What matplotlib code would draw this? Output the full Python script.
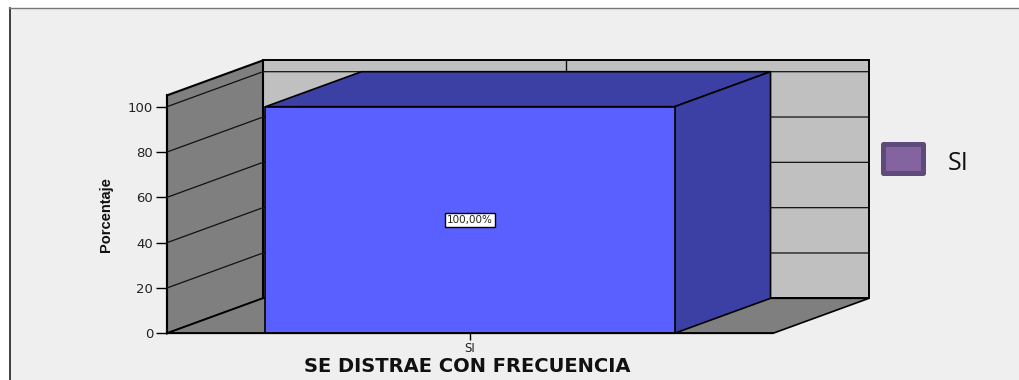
import matplotlib
matplotlib.use('Agg')
import matplotlib.pyplot as plt
from matplotlib.patches import Polygon, Rectangle

# datos
categorias = ['SI']
porcentajes = [100.0]
etiquetas = ['100,00%']
ticks_y = [0, 20, 40, 60, 80, 100]
titulo_x = 'SE DISTRAE CON FRECUENCIA'
titulo_y = 'Porcentaje'

W, H = 1019, 380
Y_MAX = 105
DX, DY = 96 / 606, 35 / 2.266   # profundidad 3D en unidades de datos
ANCHO = 0.675

fig = plt.figure(figsize=(W / 100, H / 100), dpi=100, facecolor='white')
fig.patches.append(Rectangle((9 / W, 0), 1 - 9 / W, 1 - 8 / H, transform=fig.transFigure,
                             facecolor='#efefef', edgecolor='none', zorder=-5))
fig.add_artist(plt.Line2D([9.5 / W, 9.5 / W], [0, 1 - 8 / H], color='#222222', lw=1.2))
fig.add_artist(plt.Line2D([9 / W, 1], [1 - 8 / H, 1 - 8 / H], color='#777777', lw=1.0))

ax = fig.add_axes([167 / W, (H - 333.3) / H, 606 / W, Y_MAX * 2.266 / H])
ax.patch.set_visible(False)
ax.set_xlim(-0.5, 0.5)
ax.set_ylim(0, Y_MAX)


def poli(puntos, color, z, lw=1.2):
    ax.add_patch(Polygon(puntos, closed=True, facecolor=color, edgecolor='black',
                         lw=lw, zorder=z, clip_on=False, joinstyle='miter'))


x0, x1 = ax.get_xlim()
# paredes y piso
poli([(x0 + DX, DY), (x1 + DX, DY), (x1 + DX, Y_MAX + DY), (x0 + DX, Y_MAX + DY)], '#c0c0c0', 1, lw=1.4)
poli([(x0, 0), (x0 + DX, DY), (x0 + DX, Y_MAX + DY), (x0, Y_MAX)], '#7f7f7f', 2, lw=1.5)
poli([(x0, 0), (x0 + DX, DY), (x1 + DX, DY), (x1, 0)], '#7f7f7f', 2)

# rejilla
for t in ticks_y[1:]:
    ax.plot([x0, x0 + DX, x1 + DX], [t, t + DY, t + DY], color='#111111', lw=0.9,
            zorder=3, clip_on=False)
ax.plot([DX, DX], [DY, Y_MAX + DY], color='#111111', lw=1.0, zorder=3, clip_on=False)

# barra
for i, v in enumerate(porcentajes):
    a, b = i - ANCHO / 2, i + ANCHO / 2
    poli([(a, v), (b, v), (b + DX, v + DY), (a + DX, v + DY)], '#3c3fa3', 4)
    poli([(b, 0), (b + DX, DY), (b + DX, v + DY), (b, v)], '#3c3fa3', 4)
    ax.bar(i, v, ANCHO, color='#5a60ff', edgecolor='black', lw=1.2, zorder=5)
    ax.text(i, v / 2, etiquetas[i], ha='center', va='center', fontsize=7.5, color='#222222',
            family='DejaVu Sans', zorder=6,
            bbox=dict(boxstyle='square,pad=0.18', facecolor='white', edgecolor='black', lw=1.0))

for lado in ['top', 'right']:
    ax.spines[lado].set_visible(False)
ax.spines['left'].set_bounds(0, Y_MAX)
ax.spines['bottom'].set_zorder(7)
ax.spines['left'].set_linewidth(1.5)
ax.spines['bottom'].set_linewidth(1.2)

ax.set_yticks(ticks_y)
ax.set_xticks(range(len(categorias)))
ax.set_xticklabels(categorias)
ax.tick_params(axis='y', length=8, width=1.0, labelsize=9.5, pad=2, labelcolor='#222222')
ax.tick_params(axis='x', length=5, width=1.0, labelsize=8.5, pad=1, labelcolor='#222222')

fig.text(467 / W, 1 - 366 / H, titulo_x, ha='center', va='center', fontsize=14,
         fontweight='bold', family='DejaVu Sans', color='#111111')
fig.text(106 / W, 1 - 215 / H, titulo_y, rotation=90, ha='center', va='center', fontsize=10.5,
         fontweight='bold', family=['Liberation Sans Narrow', 'Liberation Sans'], color='#111111')

# leyenda
fig.patches.append(Rectangle((882.5 / W, 1 - 173.5 / H), 40 / W, 29 / H,
                             transform=fig.transFigure, facecolor='#8364a0',
                             edgecolor='#5f4a7c', lw=3.6, joinstyle='round'))
fig.text(958 / W, 1 - 163 / H, categorias[0], ha='center', va='center', fontsize=18,
         family='Open Sans', color='#111111')

fig.savefig('out.png', dpi=100, facecolor=fig.get_facecolor())
